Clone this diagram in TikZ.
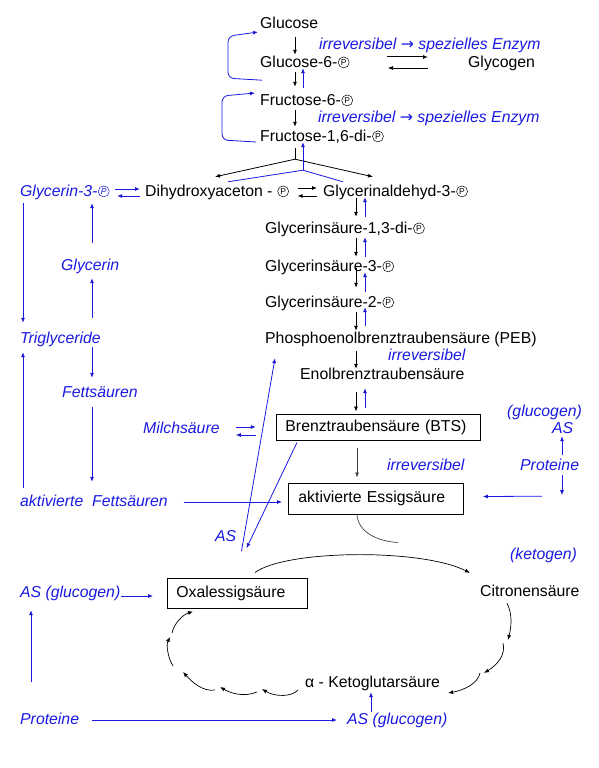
\documentclass[tikz,border=0pt]{standalone}
\usepackage{fontspec}
\setmainfont{Liberation Sans}
\newfontfamily\dv{DejaVu Sans}
\usetikzlibrary{arrows.meta,calc}
\definecolor{bl}{RGB}{25,25,225}
\newcommand\Pc{\rlap{\hbox to 12.5pt{\hss\tikz[baseline={(0pt,-4.6pt)}]\draw[line width=0.5pt] (0pt,0pt) circle[radius=5.5pt];\hss}}\hbox to 12.5pt{\hss\raisebox{1.5pt}{\fontsize{8.5}{9}\selectfont P}\hss}}
\newcommand\rarr{{\dv →}}
\begin{document}
\begin{tikzpicture}[x=1pt,y=-1pt,
 every node/.style={inner sep=0pt,anchor=west,font=\fontsize{15.8}{18}\selectfont,text height=11pt,text depth=3pt},
 bt/.style={text=bl,font=\fontsize{15.8}{18}\selectfont\itshape},
 box/.style={draw,line width=0.9pt,align=left,inner ysep=0pt},
 barr/.style={draw=black,line width=0.8pt,-{Latex[length=5pt,width=4pt]}},
 blarr/.style={draw=bl,line width=0.8pt,-{Latex[length=5pt,width=4pt]}},
 bline/.style={draw=bl,line width=0.8pt},
 kline/.style={draw=black,line width=0.8pt},
 ]
\useasboundingbox (0,0) rectangle (598,768);
% ---- black nodes
\node (glc) at (260,25) {Glucose};
\node (g6p) at (260,63) {Glucose-6-\Pc};
\node (glyc) at (468,63) {Glycogen};
\node (f6p) at (260,101) {Fructose-6-\Pc};
\node (f16) at (260,137) {Fructose-1,6-di-\Pc};
\node (dhap) at (145,192) {Dihydroxyaceton - \Pc};
\node (gap) at (323,192) {Glycerinaldehyd-3-\Pc};
\node (bpg) at (265,229) {Glycerinsäure-1,3-di-\Pc};
\node (pg3) at (265,267) {Glycerinsäure-3-\Pc};
\node (pg2) at (265,303) {Glycerinsäure-2-\Pc};
\node (peb) at (265,339) {Phosphoenolbrenztraubensäure (PEB)};
\node (enol) at (300,375) {Enolbrenztraubensäure};
\node[box,inner xsep=9pt,text width=186pt,minimum height=26pt] (bts) at (276,427) {Brenztraubensäure (BTS)};
\node[box,inner xsep=10pt,text width=155pt,minimum height=31pt] (acet) at (288,498.5) {aktivierte Essigsäure};
\node[box,inner xsep=9pt,text width=122pt,minimum height=30pt] (oaa) at (167,593) {Oxalessigsäure};
\node (cit) at (480,592) {Citronensäure};
\node (akg) at (305,683) {α - Ketoglutarsäure};
% ---- blue nodes
\node[bt] (irr1) at (319,45) {irreversibel \rarr{} spezielles Enzym};
\node[bt] (irr2) at (318,118) {irreversibel \rarr{} spezielles Enzym};
\node[bt] (g3p) at (20,192) {Glycerin-3-\Pc};
\node[bt] (glycerin) at (61,266) {Glycerin};
\node[bt] (tg) at (20,339) {Triglyceride};
\node[bt] (fs) at (62,393) {Fettsäuren};
\node[bt] (milch) at (143,429) {Milchsäure};
\node[bt] (afs) at (20,502) {aktivierte\ \ Fettsäuren};
\node[bt] (as1) at (215,537) {AS};
\node[bt] (irr3) at (388,356) {irreversibel};
\node[bt] (irr4) at (387,466) {irreversibel};
\node[bt] (glucogen) at (507,412) {(glucogen)};
\node[bt] (as2) at (552,429) {AS};
\node[bt] (prot1) at (520,466) {Proteine};
\node[bt] (ketogen) at (510,555) {(ketogen)};
\node[bt] (asg1) at (20,593) {AS (glucogen)};
\node[bt] (prot2) at (20,720) {Proteine};
\node[bt] (asg2) at (347,720) {AS (glucogen)};
% ---- top section
\draw[blarr,rounded corners=6pt] ($(g6p.south west)+(2,10)$) -- ++(-34,-2) -- ++(0,-42) -- ($(glc.west)+(-2,7)$);
\draw[blarr,rounded corners=6pt] ($(f16.west)+(-4,5)$) -- ++(-34,-2) -- ++(0,-44) -- ($(f6p.west)+(-5,-8)$);
\draw[barr] ($(glc.south west)+(35,5)$) -- ($(g6p.north west)+(35,-1)$);
\draw[barr] ($(g6p.south west)+(35,2)$) -- ($(f6p.north west)+(35,-7)$);
\draw[blarr] ($(f6p.north west)+(43,-6)$) -- ($(g6p.south west)+(43,-2)$);
\draw[barr] ($(f6p.south west)+(35,2)$) -- ($(f16.north west)+(35,-3)$);
\draw[barr,line width=1pt] ($(glyc.west)+(-81,-6)$) -- ($(glyc.west)+(-40,-6)$);
\draw[barr,line width=0.6pt] ($(glyc.west)+(-40,5)$) -- ($(glyc.west)+(-80,5)$);
% split
\draw[kline] ($(f16.south west)+(35,4)$) -- ($(f16.south west)+(35,15)$) coordinate (sp);
\draw[barr] (sp) -- ($(dhap.north west)+(70,-8)$);
\draw[barr] (sp) -- ($(gap.north west)+(50,-8)$);
\draw[bline] ($(dhap.north west)+(83,-3)$) -- ($(f16.south west)+(43,26)$) coordinate (bsp) -- ($(gap.north west)+(20,-3)$);
\draw[blarr] (bsp) -- ($(f16.south west)+(43,-2)$);
% DHAP <-> GAP, G3P <-> DHAP
\draw[barr] ($(dhap.east)+(8,-4)$) -- ($(gap.west)+(-6,-4)$);
\draw[barr] ($(gap.west)+(-6,4)$) -- ($(dhap.east)+(8,4)$);
\draw[blarr] ($(g3p.east)+(5,-3)$) -- ($(dhap.west)+(-5,-3)$);
\draw[blarr] ($(dhap.west)+(-5,4)$) -- ($(g3p.east)+(7,4)$);
% main column
\draw[barr] ($(gap.south west)+(33,-1)$) -- ($(bpg.north west)+(91,-5)$);
\draw[blarr] ($(bpg.north west)+(100,-5)$) -- ($(gap.south west)+(42,-2)$);
\draw[barr] ($(bpg.south west)+(91,2)$) -- ($(pg3.north west)+(91,-3)$);
\draw[blarr] ($(pg3.north west)+(100,-3)$) -- ($(bpg.south west)+(100,1)$);
\draw[barr] ($(pg3.south west)+(91,-6)$) -- ($(pg2.north west)+(91,-8)$);
\draw[blarr] ($(pg2.north west)+(100,-4)$) -- ($(pg3.south west)+(100,-2)$);
\draw[barr] ($(pg2.south west)+(91,2)$) -- ($(peb.north west)+(91,-1)$);
\draw[blarr] ($(peb.north west)+(100,-6)$) -- ($(pg2.south west)+(100,-3)$);
\draw[barr] ($(peb.south west)+(91,5)$) -- ($(enol.north west)+(56,1)$);
\draw[barr] ($(enol.south west)+(56,10)$) -- ($(bts.north west)+(80,-2)$);
\draw[blarr] ($(bts.north west)+(89,-6)$) -- ($(enol.south west)+(65,6)$);
\draw[barr,draw=black!75,line width=0.7pt] ($(bts.south west)+(81,8)$) -- ($(acet.north west)+(69,-5)$);
\draw[draw=black!75,line width=0.7pt] ($(acet.south west)+(69,0)$) .. controls ($(acet.south west)+(70,18)$) and ($(acet.south west)+(90,27)$) .. ($(acet.south west)+(110,28)$) coordinate (aend);
% left column
\draw[blarr] ($(g3p.south west)+(3,4)$) -- ($(tg.north west)+(3,-9)$);
\draw[blarr] ($(glycerin.north west)+(31,-16)$) -- ($(g3p.south west)+(72,4)$);
\draw[blarr] ($(tg.north west)+(72,-14)$) -- ($(glycerin.south west)+(31,5)$);
\draw[blarr] ($(tg.south west)+(72,1)$) -- ($(fs.north west)+(30,-8)$);
\draw[blarr] ($(fs.south west)+(30,7)$) -- ($(afs.north west)+(72,-13)$);
\draw[blarr] ($(afs.north west)+(3,-7)$) -- ($(tg.south west)+(3,6)$);
\draw[blarr] ($(afs.east)+(16,0)$) -- ($(acet.west|-afs.east)+(-6,0)$);
% Milchsaeure
\draw[blarr] ($(milch.east)+(16,-2)$) -- ($(milch.east)+(36,-2)$);
\draw[blarr] ($(milch.east)+(36,6)$) -- ($(milch.east)+(16,6)$);
% AS <-> PEB / BTS
\draw[blarr] ($(as1.south east)+(5,7)$) -- ($(peb.south west)+(10,12)$);
\draw[blarr] ($(bts.south west)+(21,2)$) -- ($(as1.south east)+(10,4)$);
% right proteins
\draw[blarr] ($(prot1.north west)+(42,-4)$) -- ($(as2.south west)+(10,0)$);
\draw[blarr] ($(prot1.south west)+(42,2)$) -- ++(0,20) coordinate (pdown);
\draw[blarr] ($(prot1.south west)+(22,23)$) -- ($(acet.east)+(19,-2)$);
% cycle
\draw[barr,line width=0.7pt] ($(oaa.north west)+(88,-5)$) .. controls (285,550) and (420,548) .. ($(cit.north west)+(-10,-12)$);
\draw[barr,line width=0.7pt] ($(cit.south west)+(27,4)$) coordinate (c0) .. controls (513,615) and (511,628) .. (508,640) coordinate (c1);
\draw[barr,line width=0.7pt] (503,643) coordinate (c2) .. controls (506,655) and (497,665) .. (484,673) coordinate (c3);
\draw[barr,line width=0.7pt] (480,673) coordinate (c4) .. controls (478,683) and (465,690) .. ($(akg.east)+(8,10)$);
\draw[barr,line width=0.7pt] ($(akg.west)+(-7,7)$) .. controls (292,697) and (275,697) .. (262,689) coordinate (e1);
\draw[barr,line width=0.7pt] (257,692) coordinate (e2) .. controls (245,697) and (232,694) .. (220,687) coordinate (e3);
\draw[barr,line width=0.7pt] (215,690) coordinate (e4) .. controls (203,692) and (192,682) .. (183,672) coordinate (e5);
\draw[barr,line width=0.7pt] (173,666) coordinate (e6) .. controls (168,658) and (166,645) .. (170,637) coordinate (e7);
\draw[barr,line width=0.7pt] (172,633) coordinate (e8) .. controls (174,624) and (182,615) .. ($(oaa.south west)+(26,3)$);
% bottom blue
\draw[blarr] ($(asg1.east)+(0,3)$) -- ($(oaa.west)+(-14,3)$);
\draw[blarr] ($(prot2.north west)+(11,-31)$) -- ($(asg1.south west)+(11,10)$);
\draw[blarr] ($(prot2.east)+(13,0)$) -- ($(asg2.west)+(-10,0)$);
\draw[blarr] ($(asg2.north west)+(24,-1)$) -- ($(akg.south west)+(66,2)$);
\end{tikzpicture}
\end{document}
